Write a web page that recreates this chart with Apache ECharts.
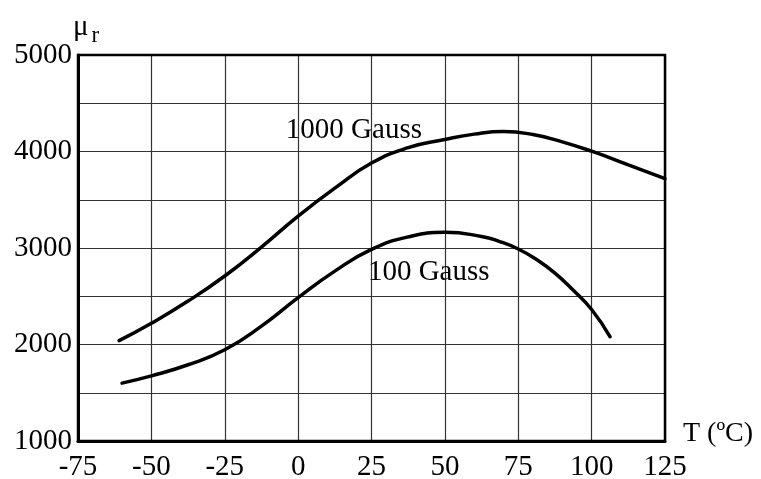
<!DOCTYPE html>
<html>
<head>
<meta charset="utf-8">
<script src="https://cdn.jsdelivr.net/npm/echarts@6/dist/echarts.min.js"></script>
<style>html,body{margin:0;padding:0;background:#fff}#c{width:761px;height:479px}</style>
</head>
<body>
<div id="c"></div>
<script>
// Temperature (°C) and relative permeability values
const t1000 = [-61, -50, -37.5, -25, -12.5, 0, 12.5, 25, 37.5, 50, 60, 70, 80, 90, 100, 112.5, 125];
const mu1000 = [2040, 2220, 2450, 2710, 3010, 3330, 3620, 3880, 4040, 4125, 4180, 4207, 4176, 4100, 4003, 3862, 3718];
const t100 = [-60, -50, -37.5, -25, -12.5, 0, 12.5, 25, 37.5, 50, 62.5, 68.75, 75, 81.25, 87.5, 93.75, 100, 106.3];
const mu100 = [1600, 1675, 1790, 1945, 2190, 2485, 2760, 2985, 3115, 3162, 3120, 3067, 2990, 2881, 2740, 2563, 2363, 2080];
const xTicks = [-75, -50, -25, 0, 25, 50, 75, 100, 125];
const yTicks = [1000, 2000, 3000, 4000, 5000];
const seriesNames = ['1000 Gauss', '100 Gauss'];
const labelPos = [[19, 4218], [44.5, 2746]];

const font = '"Liberation Serif", "Times New Roman", serif';
const pairs = (xs, ys) => xs.map((x, i) => [x, ys[i]]);

const chart = echarts.init(document.getElementById('c'), null, {renderer: 'canvas'});
const mkSeries = (name, data, lp) => ({
  name, type: 'line', data, smooth: 0.5, symbol: 'none',
  lineStyle: {color: '#000', width: 3.5, cap: 'round', join: 'round'},
  markPoint: {
    symbol: 'circle', symbolSize: 0, silent: true,
    data: [{coord: lp, label: {show: true, formatter: name, color: '#000', fontFamily: font, fontSize: 29, position: 'inside'}}]
  },
  z: 5
});
chart.setOption({
  animation: false,
  backgroundColor: '#fff',
  grid: {left: 78, right: 96, top: 55, bottom: 38, show: true, borderColor: '#000', borderWidth: 2.5, z: 10,
    containLabel: false, outerBoundsMode: 'none'},
  xAxis: {
    type: 'value', min: -75, max: 125, interval: 25,
    name: 'T (ºC)', nameLocation: 'end', nameGap: 18, nameMoveOverlap: false,
    nameTextStyle: {color: '#000', fontFamily: font, fontSize: 28, verticalAlign: 'bottom', lineHeight: 14},
    axisLine: {show: true, onZero: false, lineStyle: {color: '#000', width: 3}},
    axisTick: {show: false},
    axisLabel: {color: '#000', fontFamily: font, fontSize: 29, margin: 12,
      formatter: v => xTicks.includes(v) ? String(v) : ''},
    splitLine: {show: true, lineStyle: {color: '#333', width: 1.2}}
  },
  yAxis: {
    type: 'value', min: 1000, max: 5000, interval: 500,
    name: 'μ{s|r}', nameLocation: 'end', nameGap: 8, nameMoveOverlap: false,
    nameTextStyle: {color: '#000', fontFamily: font, fontSize: 29, align: 'left', padding: [0, 0, 0, -5],
      rich: {s: {fontFamily: font, fontSize: 23, padding: [16, 0, 0, 3], color: '#000'}}},
    axisLine: {show: true, onZero: false, lineStyle: {color: '#000', width: 3}},
    axisTick: {show: false},
    axisLabel: {color: '#000', fontFamily: font, fontSize: 29, margin: 6, padding: [0, 0, 4, 0],
      formatter: v => yTicks.includes(v) ? String(v) : ''},
    splitLine: {show: true, lineStyle: {color: '#333', width: 1.2}}
  },
  series: [
    mkSeries(seriesNames[0], pairs(t1000, mu1000), labelPos[0]),
    mkSeries(seriesNames[1], pairs(t100, mu100), labelPos[1])
  ]
});
</script>
</body>
</html>
